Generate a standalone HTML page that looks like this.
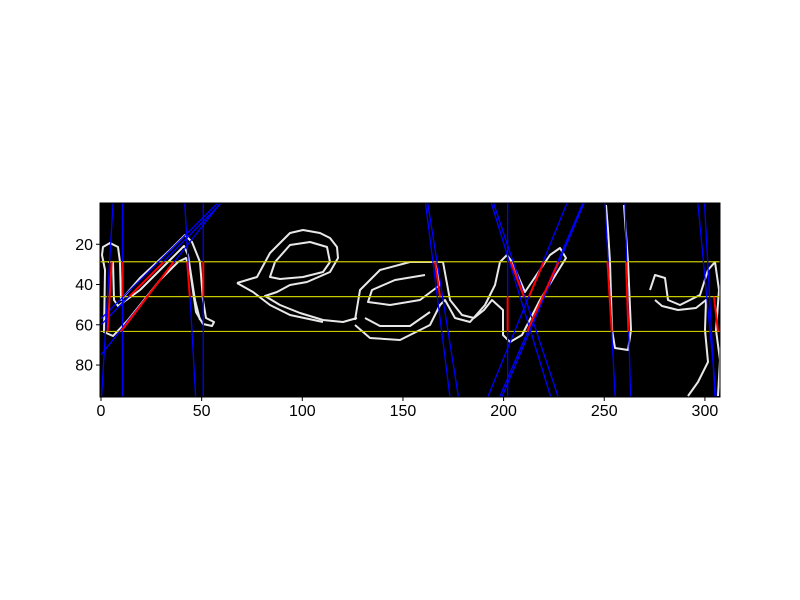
<!DOCTYPE html>
<html><head><meta charset="utf-8"><style>body{margin:0;background:#fff}svg{display:block}</style></head>
<body>
<svg id="chart" width="800" height="600" viewBox="0 0 800 600" xmlns="http://www.w3.org/2000/svg" font-family="Liberation Sans, DejaVu Sans, sans-serif">
<defs><clipPath id="clip"><rect x="100" y="203" width="620" height="194"/></clipPath></defs>
<rect x="100" y="203" width="620" height="194" fill="#000"/>
<g id="edges" clip-path="url(#clip)" fill="none" stroke="#e8e8e8" stroke-width="2" stroke-linejoin="round">
<path d="M103,247 L110,243 L118,247 L120,262 L121,300 L140,278 L170,250 L185,235 L192,242 L200,262 L203,300 L206,318 L214,322 L212,326 L203,324 L196,312 L190,270 L186,258 L178,262 L160,280 L128,320 L113,336 L104,332 L105,270 L102,255 Z"/>
<path d="M108,262 L113,262 L114,300 L118,306 L140,290 L172,258 L184,246 L188,255 L195,300 L200,320"/>
<path d="M237,283 L257,277 L270,253 L290,233 L303,230 L320,233 L330,238 L337,247 L338,258 L330,272 L307,282 L290,285 L277,292 L265,296 L280,305 L300,313 L323,320 L343,322 L357,318"/>
<path d="M270,277 L275,262 L290,245 L310,242 L327,247 L330,262 L323,272 L303,277 L280,279 Z"/>
<path d="M237,283 L253,292 L270,305 L290,315 L323,322"/>
<path d="M355,320 L360,290 L380,270 L410,262 L435,262 L440,285 L420,300 L390,305 L368,302 L372,290 L395,280 L425,275"/>
<path d="M355,325 L370,338 L400,340 L430,325 L440,305 L445,300 L455,318 L470,322 L485,305 L495,285 L500,262 L507,255 L512,262 L525,292 L550,255 L560,248 L566,258 L540,300 L522,335 L510,342 L503,335 L503,310 L492,300 L484,310 L474,318 L462,315 L450,300 L443,262 L437,262"/>
<path d="M365,318 L380,326 L410,326 L430,312"/>
<path d="M606,205 L608,230 L610,262 L612,330 L615,348 L628,350 L631,330 L628,262 L624,205"/>
<path d="M650,290 L655,275 L665,278 L668,300 L680,305 L700,295 L708,270 L715,262 L719,290 L716,330 L720,360 L718,396"/>
<path d="M688,396 L698,382 L708,362 L705,330 L706,300 L696,308 L678,310 L662,306 L655,300"/>
</g>
<g id="marks" clip-path="url(#clip)"></g>
<rect x="100" y="203" width="620" height="194" fill="none" stroke="#000" stroke-width="1"/>
<g id="axes"></g>
</svg>
<script>
const hLines = [28.7, 46, 63.3];
// blue lines: [x at top (y=-0.5), x at bottom (y=95.5)]
const blueTop = [6, 10.7, 41.6, 50.8, 161.2, 162.3, 193.9, 195, 202, 231.5, 239.4, 240, 250.4, 260.3, 296.5, 299.8];
const blueBottom = [0.3, 10.7, 47, 50.8, 173.3, 177.5, 223.3, 227, 202, 192.3, 198.2, 199.3, 255.4, 263.1, 305.6, 305];
// diagonal blue lines: [y at x=0, x at y=0]
const diagY0 = [75, 60, 57];
const diagX0 = [59, 59.3, 57.5];
// red segments: x1,y1,x2,y2
const redX1 = [5.3, 10.7, 31.3, 36.2, 42.8, 50.8, 165.9, 202, 203.5, 220, 227.3, 251.6, 260.8, 304.5];
const redY1 = [28.7, 28.7, 28.7, 28.7, 28.7, 28.7, 28.7, 46, 28.7, 28.7, 28.7, 28.7, 28.7, 46];
const redX2 = [3.3, 10.7, 14, 9.9, 44.1, 50.8, 168.4, 202, 210.1, 212.6, 211.7, 253.7, 262, 306.5];
const redY2 = [63.3, 46, 46, 63.3, 46, 46, 46, 63.3, 46, 46, 63.3, 63.3, 63.3, 63.3];
const xTicks = [0, 50, 100, 150, 200, 250, 300];
const yTicks = [20, 40, 60, 80];

const S = 620/308;
const X = v => 100 + (v + 0.5) * S;
const Y = v => 203 + (v + 0.5) * S;
const NS = 'http://www.w3.org/2000/svg';
const marks = document.getElementById('marks');
const axes = document.getElementById('axes');
function mk(tag, attrs, parent) {
  const e = document.createElementNS(NS, tag);
  for (const k in attrs) e.setAttribute(k, attrs[k]);
  parent.appendChild(e);
  return e;
}
hLines.forEach(h => {
  const l = mk('line', {x1: 100, x2: 720, y1: Y(h), y2: Y(h), stroke: '#c8c800', 'stroke-width': 1.2}, marks);
  
  
});
blueTop.forEach((t, i) => {
  const l = mk('line', {x1: X(t), y1: Y(-0.5), x2: X(blueBottom[i]), y2: Y(95.5), stroke: '#0000ff', 'stroke-width': 1.3}, marks);
  
  
});
diagY0.forEach((y0, i) => {
  const l = mk('line', {x1: X(0), y1: Y(y0), x2: X(diagX0[i]), y2: Y(0), stroke: '#0000ff', 'stroke-width': 1.3}, marks);
  
  
});
redX1.forEach((x1, i) => {
  const l = mk('line', {x1: X(x1), y1: Y(redY1[i]), x2: X(redX2[i]), y2: Y(redY2[i]), stroke: '#ff0000', 'stroke-width': 2}, marks);
  
  
});
xTicks.forEach(v => {
  const x = X(v);
  const t = mk('line', {x1: x, x2: x, y1: 397, y2: 401, stroke: '#000'}, axes);
  
  
  const tx = mk('text', {x: x, y: 416, 'text-anchor': 'middle', 'font-size': 16}, axes);
  tx.textContent = v;
  
  
});
yTicks.forEach(v => {
  const y = Y(v);
  const t = mk('line', {x1: 96, x2: 100, y1: y, y2: y, stroke: '#000'}, axes);
  
  
  const tx = mk('text', {x: 93, y: y + 5.5, 'text-anchor': 'end', 'font-size': 16}, axes);
  tx.textContent = v;
  
  
});
</script>
</body></html>
